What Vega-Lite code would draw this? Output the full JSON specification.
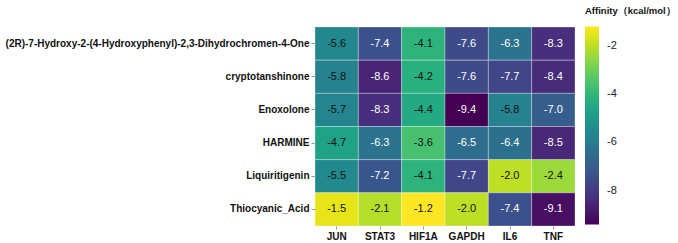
{
  "$schema": "https://vega.github.io/schema/vega-lite/v6.json",
  "autosize": "none",
  "padding": {"left": 315, "top": 27, "right": 103, "bottom": 17},
  "width": 260,
  "height": 199,
  "background": "white",
  "config": {"view": {"stroke": null}, "font": "Liberation Sans"},
  "data": {"values": [
    {"compound": "(2R)-7-Hydroxy-2-(4-Hydroxyphenyl)-2,3-Dihydrochromen-4-One", "target": "JUN", "affinity": -5.6},
    {"compound": "(2R)-7-Hydroxy-2-(4-Hydroxyphenyl)-2,3-Dihydrochromen-4-One", "target": "STAT3", "affinity": -7.4},
    {"compound": "(2R)-7-Hydroxy-2-(4-Hydroxyphenyl)-2,3-Dihydrochromen-4-One", "target": "HIF1A", "affinity": -4.1},
    {"compound": "(2R)-7-Hydroxy-2-(4-Hydroxyphenyl)-2,3-Dihydrochromen-4-One", "target": "GAPDH", "affinity": -7.6},
    {"compound": "(2R)-7-Hydroxy-2-(4-Hydroxyphenyl)-2,3-Dihydrochromen-4-One", "target": "IL6", "affinity": -6.3},
    {"compound": "(2R)-7-Hydroxy-2-(4-Hydroxyphenyl)-2,3-Dihydrochromen-4-One", "target": "TNF", "affinity": -8.3},
    {"compound": "cryptotanshinone", "target": "JUN", "affinity": -5.8},
    {"compound": "cryptotanshinone", "target": "STAT3", "affinity": -8.6},
    {"compound": "cryptotanshinone", "target": "HIF1A", "affinity": -4.2},
    {"compound": "cryptotanshinone", "target": "GAPDH", "affinity": -7.6},
    {"compound": "cryptotanshinone", "target": "IL6", "affinity": -7.7},
    {"compound": "cryptotanshinone", "target": "TNF", "affinity": -8.4},
    {"compound": "Enoxolone", "target": "JUN", "affinity": -5.7},
    {"compound": "Enoxolone", "target": "STAT3", "affinity": -8.3},
    {"compound": "Enoxolone", "target": "HIF1A", "affinity": -4.4},
    {"compound": "Enoxolone", "target": "GAPDH", "affinity": -9.4},
    {"compound": "Enoxolone", "target": "IL6", "affinity": -5.8},
    {"compound": "Enoxolone", "target": "TNF", "affinity": -7.0},
    {"compound": "HARMINE", "target": "JUN", "affinity": -4.7},
    {"compound": "HARMINE", "target": "STAT3", "affinity": -6.3},
    {"compound": "HARMINE", "target": "HIF1A", "affinity": -3.6},
    {"compound": "HARMINE", "target": "GAPDH", "affinity": -6.5},
    {"compound": "HARMINE", "target": "IL6", "affinity": -6.4},
    {"compound": "HARMINE", "target": "TNF", "affinity": -8.5},
    {"compound": "Liquiritigenin", "target": "JUN", "affinity": -5.5},
    {"compound": "Liquiritigenin", "target": "STAT3", "affinity": -7.2},
    {"compound": "Liquiritigenin", "target": "HIF1A", "affinity": -4.1},
    {"compound": "Liquiritigenin", "target": "GAPDH", "affinity": -7.7},
    {"compound": "Liquiritigenin", "target": "IL6", "affinity": -2.0},
    {"compound": "Liquiritigenin", "target": "TNF", "affinity": -2.4},
    {"compound": "Thiocyanic_Acid", "target": "JUN", "affinity": -1.5},
    {"compound": "Thiocyanic_Acid", "target": "STAT3", "affinity": -2.1},
    {"compound": "Thiocyanic_Acid", "target": "HIF1A", "affinity": -1.2},
    {"compound": "Thiocyanic_Acid", "target": "GAPDH", "affinity": -2.0},
    {"compound": "Thiocyanic_Acid", "target": "IL6", "affinity": -7.4},
    {"compound": "Thiocyanic_Acid", "target": "TNF", "affinity": -9.1}
  ]},
  "encoding": {
    "x": {"field": "target", "type": "nominal", "sort": ["JUN", "STAT3", "HIF1A", "GAPDH", "IL6", "TNF"], "title": null,
      "axis": {"labelAngle": 0, "labelFont": "Liberation Sans", "labelFontWeight": "bold", "labelFontSize": 10, "labelColor": "#111111", "domain": false, "ticks": true, "tickSize": 3, "tickColor": "#999999", "labelPadding": 2}},
    "y": {"field": "compound", "type": "nominal", "sort": null, "title": null,
      "axis": {"labelFont": "Liberation Sans", "labelFontWeight": "bold", "labelFontSize": 10, "labelColor": "#111111", "domain": false, "ticks": true, "tickSize": 4, "tickColor": "#999999", "labelPadding": 2, "labelLimit": 400}}
  },
  "layer": [
    {
      "mark": {"type": "rect", "stroke": "#ffffff", "strokeWidth": 0.6, "strokeOpacity": 0.5},
      "encoding": {
        "color": {"field": "affinity", "type": "quantitative",
          "scale": {"scheme": "viridis", "domain": [-9.4, -1.2]},
          "legend": {"title": "Affinity（kcal/mol）", "orient": "none", "legendX": 270, "legendY": -21, "values": [-8, -6, -4, -2],
            "labelExpr": "replace(datum.label, '\u2212', '-')",
            "gradientLength": 198, "gradientThickness": 14, "gradientStrokeWidth": 0,
            "titleFont": "Liberation Sans", "titleFontSize": 9.5, "titleFontWeight": "bold", "titleColor": "#111111", "titlePadding": 11, "titleLimit": 200,
            "labelFont": "Liberation Sans", "labelFontSize": 11, "labelColor": "#222222", "labelOffset": 8, "direction": "vertical"}}
      }
    },
    {
      "mark": {"type": "text", "font": "Liberation Sans", "fontSize": 11, "text": {"expr": "replace(format(datum.affinity, '.1f'), '\u2212', '-')"}},
      "encoding": {
        "color": {"condition": {"test": "datum.affinity < -6", "value": "#ffffff"}, "value": "#111111"}
      }
    }
  ]
}
